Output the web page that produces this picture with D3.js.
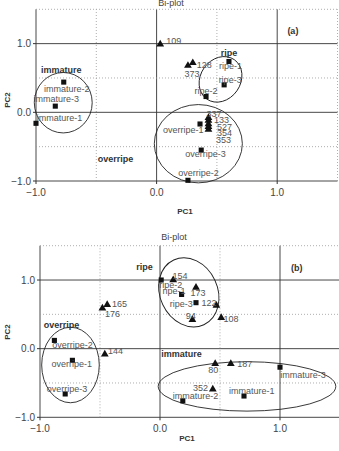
<!DOCTYPE html>
<html><head><meta charset="utf-8">
<script src="https://cdn.jsdelivr.net/npm/d3@7"></script>
<style>body{margin:0;background:#fff}svg{display:block}text{font-family:"Liberation Sans",Arial,sans-serif}</style>
</head><body>
<script>
// ---------- Panel (a) data ----------
const aNames  = ["109","128","373","ripe-1","ripe-3","ripe-2","immature-2","immature-3","immature-1","overripe-1","overripe-3","overripe-2","337","133","527","354","353"];
const aTypes  = ["t","t","t","s","s","s","s","s","s","s","s","s","t","t","t","t","t"];
const aPC1    = [0.03,0.30,0.26,0.60,0.56,0.41,-0.77,-0.84,-1.0,0.36,0.37,0.26,0.43,0.43,0.43,0.43,0.43];
const aPC2    = [0.99,0.72,0.68,0.74,0.40,0.23,0.44,0.09,-0.16,-0.17,-0.55,-0.99,-0.08,-0.12,-0.17,-0.21,-0.25];
const aGroups = ["immature","ripe","overripe"];
const aGroupX = [-0.79,0.60,-0.34];
const aGroupY = [0.62,0.87,-0.68];
// ellipses: centre, semi-axes (data units), rotation
const aEllCX = [-0.774,0.53,0.346];
const aEllCY = [0.14,0.48,-0.457];
const aEllRX = [0.24,0.166,0.365];
const aEllRY = [0.44,0.35,0.57];
const aEllRot = [0,35,0];

// ---------- Panel (b) data ----------
const bNames  = ["ripe-2","154","ripe-1","173","ripe-3","122","94","108","165","176","overripe-2","overripe-1","overripe-3","144","80","187","immature-3","352","immature-2","immature-1"];
const bTypes  = ["s","t","s","t","s","t","t","t","t","t","s","s","s","t","t","t","s","t","s","s"];
const bPC1    = [0.01,0.11,0.18,0.30,0.30,0.47,0.27,0.51,-0.44,-0.48,-0.88,-0.73,-0.79,-0.46,0.46,0.59,1.0,0.44,0.19,0.70];
const bPC2    = [1.0,1.0,0.79,0.89,0.67,0.63,0.42,0.45,0.64,0.59,0.12,-0.17,-0.66,-0.08,-0.22,-0.22,-0.27,-0.59,-0.76,-0.69];
const bGroups = ["ripe","overripe","immature"];
const bGroupX = [-0.13,-0.82,0.18];
const bGroupY = [1.19,0.34,-0.08];
const bEllCX = [0.24,-0.746,0.725];
const bEllCY = [0.82,-0.238,-0.55];
const bEllRX = [0.24,0.24,0.74];
const bEllRY = [0.52,0.55,0.36];
const bEllRot = [-25,0,0];

const ticks = [-1,0,1];
const grid = [-1,-0.5,0,0.5,1,1.5];

// label placements (pixel offsets of label centre from its point)
const aOff = {"109":[13.5,-3],"128":[11.5,1.7],"373":[4,8],"ripe-1":[1.5,4.7],"ripe-3":[6,-5],"ripe-2":[0,-5.7],
 "immature-2":[3,6.6],"immature-3":[1,-6.7],"immature-1":[23.5,-5.6],"overripe-1":[-16.7,5.7],"overripe-3":[4.3,4],"overripe-2":[10.5,-7],
 "337":[5.5,-4],"133":[13,-0.5],"527":[16,3],"354":[16,6.5],"353":[15,10.5]};
const bOff = {"ripe-2":[9.5,5],"154":[6.7,-4.3],"ripe-1":[-7.7,-3.3],"173":[2,5.8],"ripe-3":[-14.8,1],"122":[-7.5,-2.6],"94":[-1.7,-4.3],
 "108":[9.8,1.7],"165":[12.3,-1],"176":[10,5.7],"overripe-2":[18,5],"overripe-1":[-0.6,4],"overripe-3":[1.7,-5],"144":[10.7,-3.3],
 "80":[-2,6.2],"187":[14,0.7],"immature-3":[23,8],"352":[-12.3,-1],"immature-2":[12.7,-5],"immature-1":[7.7,-5]};

const svg = d3.select("body").append("svg").attr("width",339).attr("height",451);

function panel(o){
  const x = d3.scaleLinear().domain([-1,1.5]).range(o.xr);
  const y = d3.scaleLinear().domain([-1,1.5]).range(o.yr);
  const g = svg.append("g");
  g.append("text").attr("x",o.titleX).attr("y",o.titleY).attr("text-anchor","middle")
    .attr("font-size",9).attr("fill","#444").text("Bi-plot");
  grid.forEach(v=>{
    const major = Number.isInteger(v);
    g.append("line").attr("x1",x(v)).attr("x2",x(v)).attr("y1",y(-1)).attr("y2",y(1.5))
      .attr("stroke",major?"#333":"#999").attr("stroke-width",major?0.9:0.8)
      .attr("stroke-dasharray",major?null:"1,2");
    g.append("line").attr("y1",y(v)).attr("y2",y(v)).attr("x1",x(-1)).attr("x2",x(1.5))
      .attr("stroke",major?"#333":"#999").attr("stroke-width",major?0.9:0.8)
      .attr("stroke-dasharray",major?null:"1,2");
  });
  ticks.forEach(v=>{
    g.append("line").attr("x1",x(v)).attr("x2",x(v)).attr("y1",y(-1)).attr("y2",y(-1)+3).attr("stroke","#333");
    g.append("line").attr("x1",x(-1)-3).attr("x2",x(-1)).attr("y1",y(v)).attr("y2",y(v)).attr("stroke","#333");
    g.append("text").attr("x",x(v)).attr("y",y(-1)+15).attr("text-anchor","middle")
      .attr("font-size",10).attr("fill","#444").text(d3.format(".1f")(v));
    g.append("text").attr("x",x(-1)-5).attr("y",y(v)+3.5).attr("text-anchor","end")
      .attr("font-size",10).attr("fill","#444").text(d3.format(".1f")(v));
  });
  g.append("text").attr("x",o.pc1X).attr("y",o.pc1Y).attr("text-anchor","middle")
    .attr("font-size",8).attr("font-weight","bold").attr("fill","#333").text("PC1");
  g.append("text").attr("transform",`translate(10,${o.pc2Y}) rotate(-90)`).attr("text-anchor","middle")
    .attr("font-size",8).attr("font-weight","bold").attr("fill","#333").text("PC2");
  o.ecx.forEach((cx,i)=>{
    const px = x(cx), py = y(o.ecy[i]);
    const rx = x(o.erx[i]) - x(0), ry = y(0) - y(o.ery[i]);
    g.append("ellipse").attr("cx",0).attr("cy",0).attr("rx",rx).attr("ry",ry)
      .attr("transform",`translate(${px},${py}) rotate(${o.erot[i]})`)
      .attr("fill","none").attr("stroke","#222").attr("stroke-width",0.9);
  });
  o.names.forEach((n,i)=>{
    const px = x(o.pc1[i]), py = y(o.pc2[i]);
    const sym = o.types[i]==="s" ? d3.symbol(d3.symbolSquare,26) : d3.symbol(d3.symbolTriangle,26);
    g.append("path").attr("d",sym()).attr("transform",`translate(${px},${py})`).attr("fill","#111");
    const off = o.off[n] || [8,0];
    g.append("text").attr("x",px+off[0]).attr("y",py+off[1]+3).attr("text-anchor","middle")
      .attr("font-size",9).attr("fill","#555").text(n);
  });
  o.groups.forEach((n,i)=>{
    g.append("text").attr("x",x(o.gx[i])).attr("y",y(o.gy[i])+3).attr("text-anchor","middle")
      .attr("font-size",9).attr("font-weight","bold").attr("fill","#333").text(n);
  });
  g.append("text").attr("x",x(o.tagX)).attr("y",y(1.18)+3).attr("text-anchor","middle")
    .attr("font-size",9).attr("font-weight","bold").attr("fill","#333").text(o.tag);
}

panel({xr:[36,337.5],yr:[181,9.3],titleX:171,titleY:6,pc1X:185,pc1Y:214,pc2Y:100,
  names:aNames,types:aTypes,pc1:aPC1,pc2:aPC2,off:aOff,
  ecx:aEllCX,ecy:aEllCY,erx:aEllRX,ery:aEllRY,erot:aEllRot,
  groups:aGroups,gx:aGroupX,gy:aGroupY,tag:"(a)",tagX:1.13});
panel({xr:[40,340],yr:[417.3,245.7],titleX:174,titleY:240,pc1X:187,pc1Y:441,pc2Y:332,
  names:bNames,types:bTypes,pc1:bPC1,pc2:bPC2,off:bOff,
  ecx:bEllCX,ecy:bEllCY,erx:bEllRX,ery:bEllRY,erot:bEllRot,
  groups:bGroups,gx:bGroupX,gy:bGroupY,tag:"(b)",tagX:1.14});
</script>
</body></html>
